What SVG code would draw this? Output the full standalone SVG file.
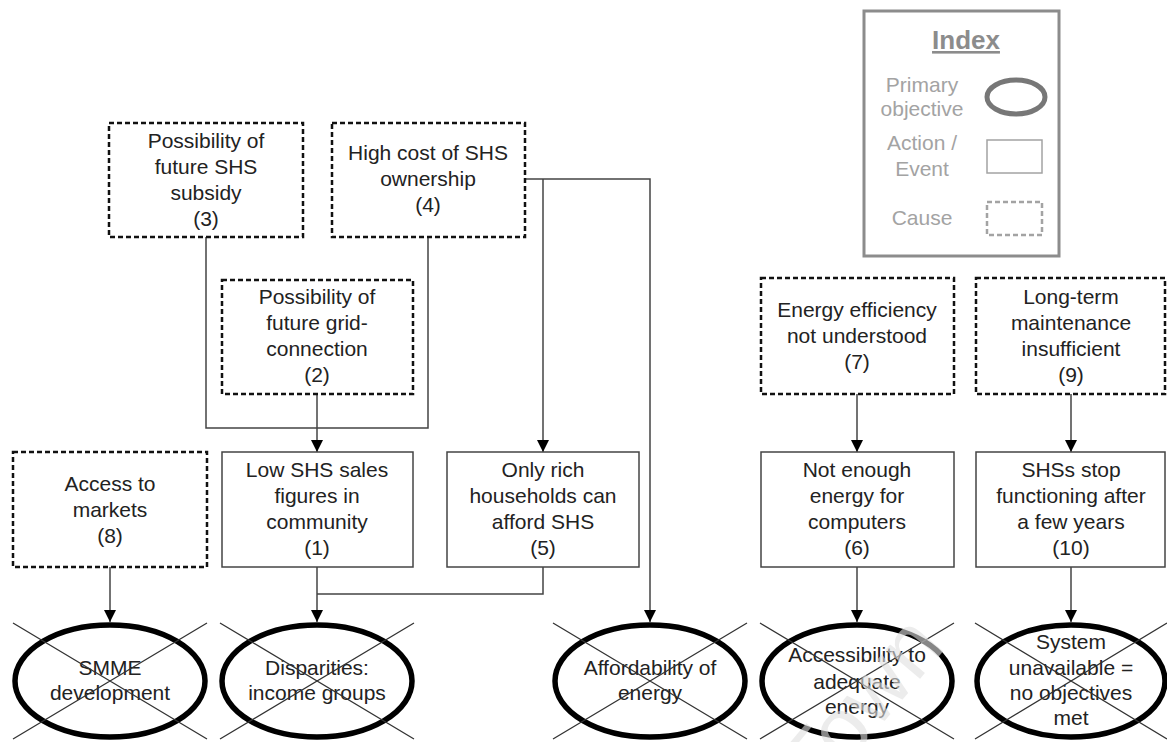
<svg xmlns="http://www.w3.org/2000/svg" width="1167" height="742" viewBox="0 0 1167 742">
<defs>
<style>
text{font-family:"Liberation Sans",Arial,sans-serif;font-size:21px;fill:#222;text-anchor:middle}
.cause{fill:#fff;stroke:#111;stroke-width:2.5;stroke-dasharray:5 3}
.act{fill:#fff;stroke:#444;stroke-width:1.5}
.obj{fill:none;stroke:#000;stroke-width:5.5}
.xl{stroke:#333;stroke-width:1.3}
.con{fill:none;stroke:#444;stroke-width:1.5}
.leg{fill:#a3a3a3}
</style>
<marker id="ah" viewBox="0 0 12 12" markerWidth="12" markerHeight="12" refX="12" refY="6" orient="auto" markerUnits="userSpaceOnUse">
<path d="M0,0 L12,6 L0,12 z" fill="#000"/>
</marker>
</defs>
<rect width="1167" height="742" fill="#fff"/>

<g id="index">
<rect x="864" y="11" width="195" height="245" fill="#fff" stroke="#8c8c8c" stroke-width="3"/>
<text x="966" y="49" style="font-size:26px;font-weight:bold;fill:#8c8c8c;text-decoration:underline">Index</text>
<text x="922" y="92" class="leg">Primary</text>
<text x="922" y="116" class="leg">objective</text>
<ellipse cx="1016" cy="97" rx="29" ry="17" fill="none" stroke="#777" stroke-width="5"/>
<text x="922" y="150" class="leg">Action /</text>
<text x="922" y="176" class="leg">Event</text>
<rect x="987" y="140" width="55" height="33" fill="#fff" stroke="#a3a3a3" stroke-width="1.5"/>
<text x="922" y="225" class="leg">Cause</text>
<rect x="987" y="202" width="55" height="33" fill="#fff" stroke="#a3a3a3" stroke-width="2.5" stroke-dasharray="5 3"/>
</g>

<g id="connectors">
<path class="con" d="M206,237 V428 H428 V237"/>
<path class="con" d="M317,394 V452" marker-end="url(#ah)"/>
<path class="con" d="M525,179 H650 V622" marker-end="url(#ah)"/>
<path class="con" d="M543,179 V452" marker-end="url(#ah)"/>
<path class="con" d="M317,567 V622" marker-end="url(#ah)"/>
<path class="con" d="M543,567 V594 H317"/>
<path class="con" d="M110,567 V622" marker-end="url(#ah)"/>
<path class="con" d="M857,394 V452" marker-end="url(#ah)"/>
<path class="con" d="M857,567 V622" marker-end="url(#ah)"/>
<path class="con" d="M1071,394 V452" marker-end="url(#ah)"/>
<path class="con" d="M1071,567 V622" marker-end="url(#ah)"/>
</g>

<g id="n3">
<rect class="cause" x="109" y="123" width="194" height="114"/>
<text x="206" y="148">Possibility of</text>
<text x="206" y="174">future SHS</text>
<text x="206" y="200">subsidy</text>
<text x="206" y="226">(3)</text>
</g>
<g id="n4">
<rect class="cause" x="332" y="123" width="193" height="114"/>
<text x="428" y="160">High cost of SHS</text>
<text x="428" y="186">ownership</text>
<text x="428" y="212">(4)</text>
</g>
<g id="n2">
<rect class="cause" x="222" y="280" width="191" height="114"/>
<text x="317" y="304">Possibility of</text>
<text x="317" y="330">future grid-</text>
<text x="317" y="356">connection</text>
<text x="317" y="382">(2)</text>
</g>
<g id="n7">
<rect class="cause" x="761" y="278" width="193" height="116"/>
<text x="857" y="317">Energy efficiency</text>
<text x="857" y="343">not understood</text>
<text x="857" y="369">(7)</text>
</g>
<g id="n9">
<rect class="cause" x="976" y="278" width="189" height="116"/>
<text x="1071" y="304">Long-term</text>
<text x="1071" y="330">maintenance</text>
<text x="1071" y="356">insufficient</text>
<text x="1071" y="382">(9)</text>
</g>
<g id="n8">
<rect class="cause" x="13" y="452" width="194" height="115"/>
<text x="110" y="491">Access to</text>
<text x="110" y="517">markets</text>
<text x="110" y="543">(8)</text>
</g>
<g id="n1">
<rect class="act" x="222" y="452" width="191" height="115"/>
<text x="317" y="477">Low SHS sales</text>
<text x="317" y="503">figures in</text>
<text x="317" y="529">community</text>
<text x="317" y="555">(1)</text>
</g>
<g id="n5">
<rect class="act" x="447" y="452" width="192" height="115"/>
<text x="543" y="477">Only rich</text>
<text x="543" y="503">households can</text>
<text x="543" y="529">afford SHS</text>
<text x="543" y="555">(5)</text>
</g>
<g id="n6">
<rect class="act" x="761" y="452" width="193" height="115"/>
<text x="857" y="477">Not enough</text>
<text x="857" y="503">energy for</text>
<text x="857" y="529">computers</text>
<text x="857" y="555">(6)</text>
</g>
<g id="n10">
<rect class="act" x="976" y="452" width="189" height="115"/>
<text x="1071" y="477">SHSs stop</text>
<text x="1071" y="503">functioning after</text>
<text x="1071" y="529">a few years</text>
<text x="1071" y="555">(10)</text>
</g>

<g id="o1">
<ellipse class="obj" cx="110" cy="681" rx="95" ry="56"/>
<text x="110" y="675">SMME</text>
<text x="110" y="700">development</text>
<path class="xl" d="M13,623 L207,739 M207,623 L13,739"/>
</g>
<g id="o2">
<ellipse class="obj" cx="317" cy="681" rx="95" ry="56"/>
<text x="317" y="675">Disparities:</text>
<text x="317" y="700">income groups</text>
<path class="xl" d="M220,623 L414,739 M414,623 L220,739"/>
</g>
<g id="o3">
<ellipse class="obj" cx="650" cy="681" rx="95" ry="56"/>
<text x="650" y="675">Affordability of</text>
<text x="650" y="700">energy</text>
<path class="xl" d="M553,623 L747,739 M747,623 L553,739"/>
</g>
<g id="o4">
<ellipse class="obj" cx="857" cy="681" rx="95" ry="56"/>
<text x="857" y="662">Accessibility to</text>
<text x="857" y="689">adequate</text>
<text x="857" y="714">energy</text>
<path class="xl" d="M760,623 L954,739 M954,623 L760,739"/>
</g>
<g id="o5">
<ellipse class="obj" cx="1071" cy="681" rx="94" ry="56"/>
<text x="1071" y="649">System</text>
<text x="1071" y="675">unavailable =</text>
<text x="1071" y="700">no objectives</text>
<text x="1071" y="725">met</text>
<path class="xl" d="M975,623 L1167,739 M1167,623 L975,739"/>
</g>

<text x="819" y="799" transform="rotate(-50 819 799)" style="font-size:85px;fill:#e0e0e0;opacity:0.6;text-anchor:start">Town</text>
</svg>
